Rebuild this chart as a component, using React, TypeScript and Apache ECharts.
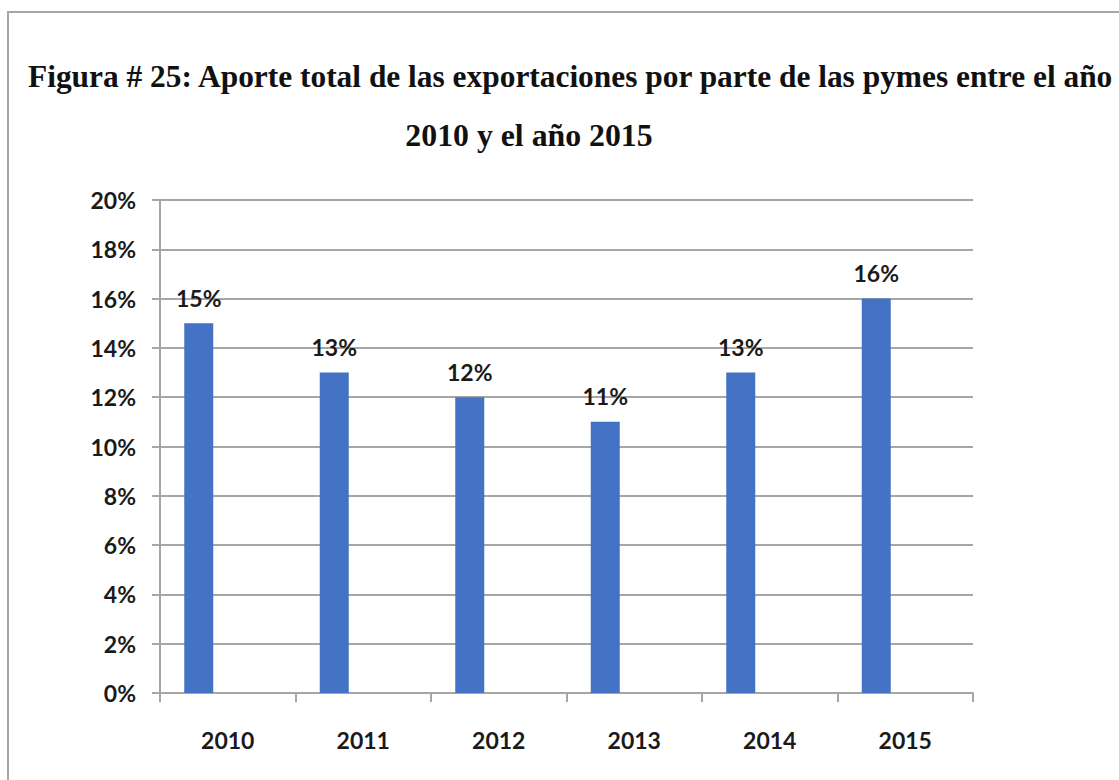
import React, { useEffect, useRef } from "react";
import * as echarts from "echarts";

const years = ["2010", "2011", "2012", "2013", "2014", "2015"];
const pymesShare = [15, 13, 12, 11, 13, 16];
const emptySeriesA: number[] = [];
const emptySeriesB: number[] = [];
const titleLine1 = "Figura # 25: Aporte total de las exportaciones por parte de las pymes entre el año";
const titleLine2 = "2010 y el año 2015";

export default function App() {
  const ref = useRef<HTMLDivElement>(null);
  useEffect(() => {
    if (!ref.current) return;
    const chart = echarts.init(ref.current, null, { renderer: "svg" });
    const gray = "#a6a6a6";
    const labelFont = { fontFamily: "Lato", fontWeight: "bold" as const, fontSize: 23, color: "#1a1a1a" };
    chart.setOption({
      animation: false,
      backgroundColor: "#ffffff",
      title: [
        {
          text: titleLine1,
          left: 23,
          top: 56,
          textStyle: { fontFamily: "Liberation Serif", fontWeight: "bold", fontSize: 31.4, color: "#111" },
        },
        {
          text: titleLine2,
          left: 524,
          top: 114,
          textAlign: "center",
          textStyle: { fontFamily: "Liberation Serif", fontWeight: "bold", fontSize: 31.8, color: "#111" },
        },
      ],
      graphic: [
        {
          type: "rect",
          shape: { x: 8, y: 12, width: 1200, height: 900 },
          style: { fill: "none", stroke: gray, lineWidth: 2 },
          silent: true,
        },
      ],
      grid: { left: 160, right: 146, top: 200, bottom: 87, containLabel: false },
      xAxis: {
        type: "category",
        data: years,
        axisLine: { show: true, lineStyle: { color: gray, width: 2 } },
        axisTick: { show: true, length: 9, lineStyle: { color: gray, width: 2 } },
        axisLabel: { ...labelFont, margin: 35 },
      },
      yAxis: {
        type: "value",
        min: 0,
        max: 20,
        interval: 2,
        axisLine: { show: true, lineStyle: { color: gray, width: 2 } },
        axisTick: { show: true, length: 8, lineStyle: { color: gray, width: 2 } },
        splitLine: { show: true, lineStyle: { color: gray, width: 2 } },
        axisLabel: { ...labelFont, margin: 24, formatter: "{value}%" },
      },
      series: [
        {
          type: "bar",
          data: pymesShare,
          barWidth: 29,
          barGap: "0%",
          itemStyle: { color: "#4472c4" },
          label: {
            show: true,
            position: "top",
            distance: 14,
            formatter: "{c}%",
            ...labelFont,
          },
        },
        { type: "bar", data: emptySeriesA, barWidth: 29, barGap: "0%" },
        { type: "bar", data: emptySeriesB, barWidth: 29, barGap: "0%" },
      ],
    });
    return () => chart.dispose();
  }, []);
  return (
    <div
      ref={ref}
      style={{ position: "fixed", left: 0, top: 0, width: 1119, height: 780 }}
    />
  );
}
